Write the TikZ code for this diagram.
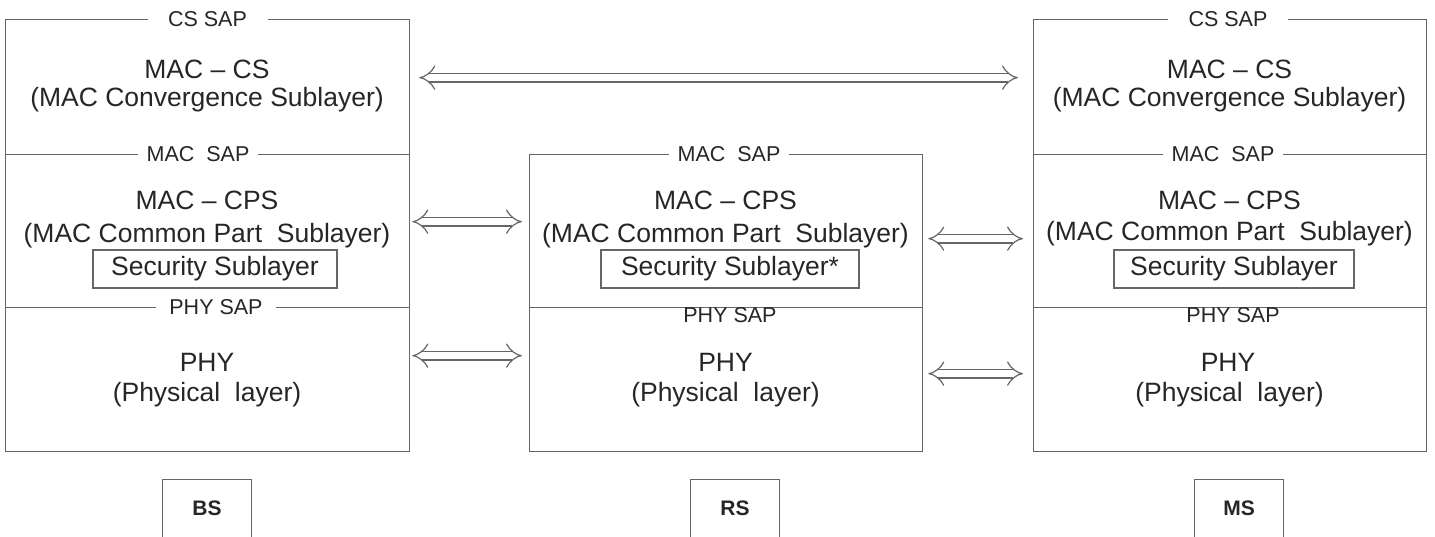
\documentclass[tikz,border=0pt]{standalone}
\usepackage{fontspec}
\setmainfont{Liberation Sans}
\usetikzlibrary{arrows.meta}
\definecolor{txt}{HTML}{262626}
\definecolor{ln}{HTML}{666666}
\begin{document}
\begin{tikzpicture}[x=1pt,y=-1pt,
  layerbox/.style={draw=ln, line width=1.3pt, inner sep=0pt, anchor=north west},
  maintxt/.style={text=txt, font=\fontsize{26.5}{30}\selectfont, inner sep=0pt},
  saplabel/.style={text=txt, font=\fontsize{21.5}{24}\selectfont, fill=white, minimum width=120pt, inner sep=0pt, minimum height=16pt},
  secbox/.style={draw=ln, line width=1.3pt, text=txt, font=\fontsize{26.5}{30}\selectfont, inner sep=0pt, minimum height=38pt},
  namelbl/.style={text=txt, font=\bfseries\fontsize{21}{24}\selectfont, inner sep=0pt, minimum width=88pt, minimum height=56pt},
  namebox/.style={draw=ln, line width=1.3pt},
  dblarrow/.style={draw=ln, line width=1.2pt, double=white, double distance=7.5pt, {Implies[length=6pt,width=20pt]}-{Implies[length=6pt,width=20pt]}}]
\useasboundingbox (0,0) rectangle (1435,536);

% BS layers
\node[layerbox, minimum width=404pt, minimum height=135pt] (bsCS) at (5,19) {};
\node[layerbox, minimum width=404pt, minimum height=153pt] (bsCPS) at (5,154) {};
\node[layerbox, minimum width=404pt, minimum height=144pt] (bsPHY) at (5,307) {};
% RS layers
\node[layerbox, minimum width=393pt, minimum height=153pt] (rsCPS) at (529,154) {};
\node[layerbox, minimum width=393pt, minimum height=144pt] (rsPHY) at (529,307) {};
% MS layers
\node[layerbox, minimum width=393pt, minimum height=135pt] (msCS) at (1033,19) {};
\node[layerbox, minimum width=393pt, minimum height=153pt] (msCPS) at (1033,154) {};
\node[layerbox, minimum width=393pt, minimum height=144pt] (msPHY) at (1033,307) {};

% SAP labels
\node[saplabel] (bsCSsap) at (207.5,19) {CS SAP};
\node[saplabel] (bsMACsap) at (198,154) {MAC~~SAP};
\node[saplabel] (bsPHYsap) at (216,307) {PHY SAP};
\node[saplabel] (rsMACsap) at (729,154) {MAC~~SAP};
\node[saplabel] (rsPHYsap) at (730,315.5) {PHY SAP};
\node[saplabel] (msCSsap) at (1228,19) {CS SAP};
\node[saplabel] (msMACsap) at (1223,154) {MAC~~SAP};
\node[saplabel] (msPHYsap) at (1233,315.5) {PHY SAP};

% BS texts
\node[maintxt] (bsCSt) at (207,69) {MAC – CS};
\node[maintxt] (bsCSs) at (207,100) {(MAC Convergence Sublayer)};
\node[maintxt] (bsCPSt) at (207,200) {MAC – CPS};
\node[maintxt] (bsCPSs) at (207,235.5) {(MAC Common Part~~Sublayer)};
\node[secbox, minimum width=244pt] (bsSec) at (215,269) {Security Sublayer};
\node[maintxt] (bsPHYt) at (207,362) {PHY};
\node[maintxt] (bsPHYs) at (207,395) {(Physical~~layer)};

% RS texts
\node[maintxt] (rsCPSt) at (725.5,200) {MAC – CPS};
\node[maintxt] (rsCPSs) at (725.5,235.5) {(MAC Common Part~~Sublayer)};
\node[secbox, minimum width=258pt] (rsSec) at (730,269) {Security Sublayer*};
\node[maintxt] (rsPHYt) at (725.5,362) {PHY};
\node[maintxt] (rsPHYs) at (725.5,395) {(Physical~~layer)};

% MS texts
\node[maintxt] (msCSt) at (1229.5,69) {MAC – CS};
\node[maintxt] (msCSs) at (1229.5,100) {(MAC Convergence Sublayer)};
\node[maintxt] (msCPSt) at (1229.5,200) {MAC – CPS};
\node[maintxt] (msCPSs) at (1229.5,234) {(MAC Common Part~~Sublayer)};
\node[secbox, minimum width=240pt] (msSec) at (1234,269) {Security Sublayer};
\node[maintxt] (msPHYt) at (1228,362) {PHY};
\node[maintxt] (msPHYs) at (1229.5,395) {(Physical~~layer)};

% station names
\node[namelbl] (bsName) at (207,508) {BS};
\node[namelbl] (rsName) at (735,508) {RS};
\node[namelbl] (msName) at (1239,508) {MS};
\foreach \n in {bsName,rsName,msName}{
  \draw[namebox] ([yshift=-6pt]\n.south west) -- (\n.north west) -- (\n.north east) -- ([yshift=-6pt]\n.south east);
}

% peer arrows
\draw[dblarrow] ([shift={(9,-9.5)}]bsCS.east) -- ([shift={(-15,-9.5)}]msCS.west);
\draw[dblarrow] ([shift={(2,-9.5)}]bsCPS.east) -- ([shift={(-7,-9.5)}]rsCPS.west);
\draw[dblarrow] ([shift={(2,-24)}]bsPHY.east) -- ([shift={(-7,-24)}]rsPHY.west);
\draw[dblarrow] ([shift={(5,7.5)}]rsCPS.east) -- ([shift={(-10,7.5)}]msCPS.west);
\draw[dblarrow] ([shift={(5,-6)}]rsPHY.east) -- ([shift={(-10,-6)}]msPHY.west);
\end{tikzpicture}
\end{document}
